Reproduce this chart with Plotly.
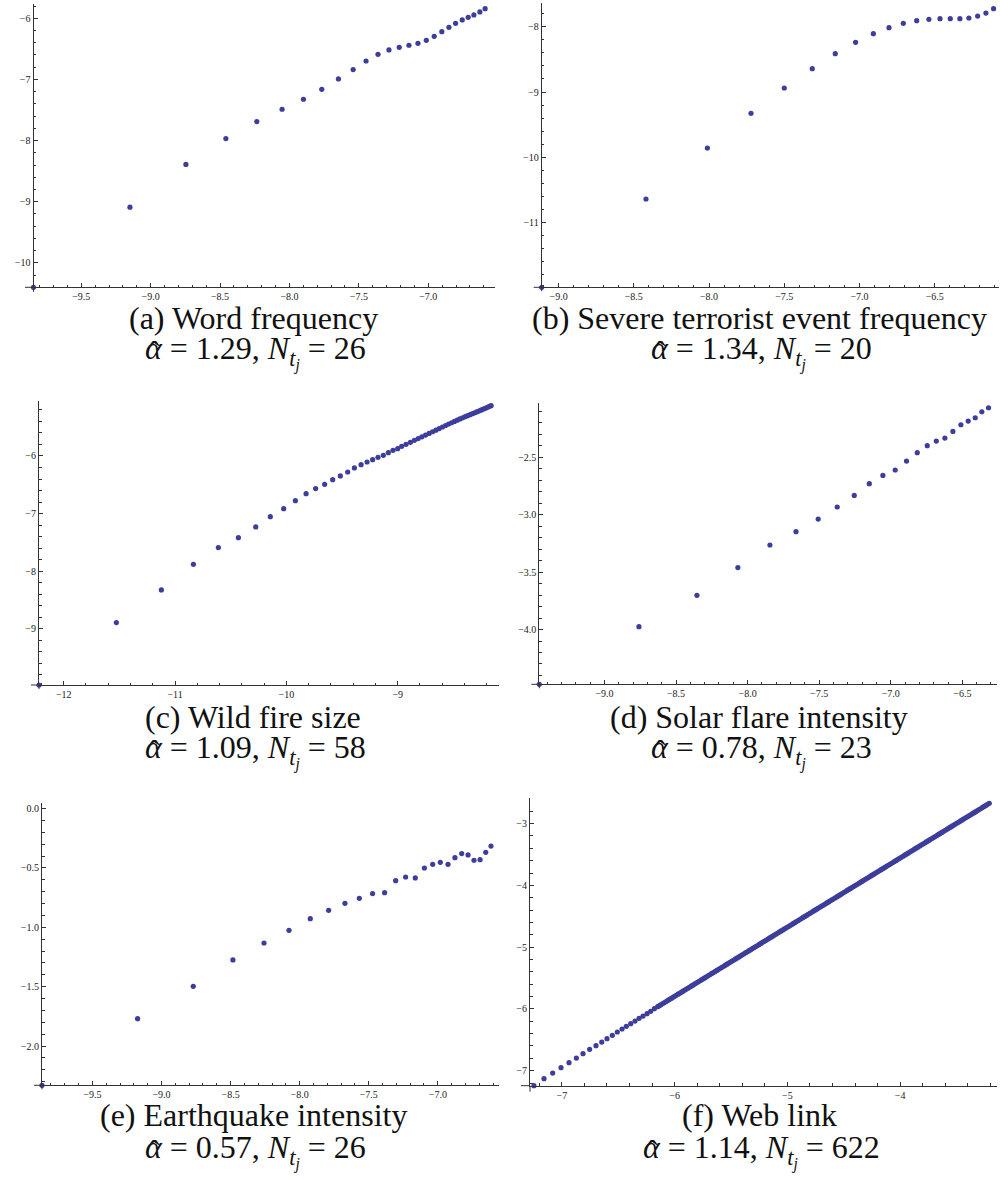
import plotly.graph_objects as go

# ---------------------------------------------------------------- data
# (a) Word frequency
word_x = [-9.844, -9.149, -8.746, -8.458, -8.235, -8.053, -7.899, -7.767, -7.647, -7.541,
          -7.448, -7.362, -7.283, -7.209, -7.139, -7.074, -7.014, -6.957, -6.902, -6.851,
          -6.803, -6.755, -6.712, -6.671, -6.628, -6.590]
word_y = [-10.40, -9.09, -8.39, -7.967, -7.689, -7.488, -7.324, -7.161, -6.992, -6.839,
          -6.698, -6.589, -6.518, -6.474, -6.441, -6.409, -6.360, -6.294, -6.218, -6.147,
          -6.082, -6.027, -5.984, -5.945, -5.896, -5.842]

# (b) Severe terrorist event frequency
terror_x = [-9.112, -8.419, -8.011, -7.721, -7.500, -7.314, -7.161, -7.026, -6.908, -6.804,
            -6.709, -6.620, -6.539, -6.465, -6.397, -6.333, -6.273, -6.215, -6.160, -6.109]
terror_y = [-11.99, -10.638, -9.857, -9.327, -8.939, -8.643, -8.413, -8.240, -8.107, -8.015,
            -7.949, -7.908, -7.888, -7.878, -7.878, -7.878, -7.867, -7.837, -7.791, -7.724]

# (c) Wild fire size
fire_x = [-12.222, -11.527, -11.123, -10.835, -10.611, -10.431, -10.275, -10.144, -10.024, -9.919,
          -9.823, -9.737, -9.656, -9.584, -9.515, -9.449, -9.389, -9.329, -9.275, -9.225,
          -9.177, -9.129, -9.084, -9.042, -9.000, -8.964, -8.925, -8.886, -8.850, -8.816,
          -8.783, -8.750, -8.718, -8.687, -8.657, -8.627, -8.598, -8.570, -8.543, -8.516,
          -8.490, -8.465, -8.441, -8.417, -8.394, -8.372, -8.350, -8.329, -8.309, -8.290,
          -8.271, -8.253, -8.236, -8.220, -8.204, -8.189, -8.175, -8.161]
fire_y = [-9.980, -8.895, -8.328, -7.882, -7.592, -7.419, -7.233, -7.054, -6.915, -6.776,
          -6.654, -6.567, -6.492, -6.411, -6.347, -6.278, -6.208, -6.151, -6.104, -6.064,
          -6.023, -5.988, -5.942, -5.902, -5.873, -5.832, -5.797, -5.763, -5.728, -5.697,
          -5.667, -5.637, -5.608, -5.579, -5.551, -5.523, -5.496, -5.470, -5.445, -5.422,
          -5.399, -5.377, -5.356, -5.336, -5.317, -5.300, -5.282, -5.265, -5.249, -5.234,
          -5.219, -5.204, -5.189, -5.176, -5.162, -5.149, -5.137, -5.125]

# (d) Solar flare intensity
solar_x = [-9.455, -8.759, -8.354, -8.068, -7.844, -7.662, -7.507, -7.374, -7.255, -7.150,
           -7.055, -6.969, -6.890, -6.815, -6.745, -6.682, -6.622, -6.566, -6.510, -6.459,
           -6.410, -6.364, -6.317]
solar_y = [-4.477, -3.975, -3.702, -3.461, -3.264, -3.148, -3.038, -2.933, -2.832, -2.730,
           -2.658, -2.611, -2.533, -2.460, -2.399, -2.359, -2.333, -2.275, -2.217, -2.185,
           -2.156, -2.104, -2.069]

# (e) Earthquake intensity
quake_x = [-9.865, -9.173, -8.770, -8.483, -8.258, -8.077, -7.923, -7.790, -7.672, -7.568,
           -7.472, -7.385, -7.305, -7.233, -7.163, -7.097, -7.037, -6.982, -6.926, -6.876,
           -6.827, -6.781, -6.738, -6.694, -6.653, -6.615]
quake_y = [-2.331, -1.770, -1.497, -1.275, -1.132, -1.025, -0.927, -0.857, -0.798, -0.756,
           -0.716, -0.708, -0.607, -0.576, -0.584, -0.500, -0.469, -0.452, -0.469, -0.413,
           -0.379, -0.390, -0.435, -0.430, -0.368, -0.315]

# (f) Web link: sparse lower tail ...
web_tail_x = [-7.347, -7.247, -7.158, -7.081, -7.007, -6.936, -6.871, -6.812, -6.753, -6.697,
              -6.646, -6.599, -6.552, -6.508, -6.466, -6.428, -6.389, -6.351, -6.315, -6.280,
              -6.244, -6.212, -6.179]
web_tail_y = [-7.351, -7.243, -7.130, -7.038, -6.951, -6.870, -6.795, -6.725, -6.654, -6.595,
              -6.536, -6.482, -6.428, -6.374, -6.325, -6.282, -6.239, -6.196, -6.153, -6.115,
              -6.077, -6.039, -5.996]
# ... and the dense upper run
web_run_x = [
    -6.150, -6.135, -6.120, -6.105, -6.090, -6.075, -6.060, -6.045, -6.030, -6.015,
    -6.000, -5.985, -5.970, -5.955, -5.940, -5.925, -5.910, -5.895, -5.880, -5.865,
    -5.850, -5.835, -5.820, -5.805, -5.790, -5.775, -5.760, -5.745, -5.730, -5.715,
    -5.700, -5.685, -5.670, -5.655, -5.640, -5.625, -5.610, -5.595, -5.580, -5.565,
    -5.550, -5.535, -5.520, -5.505, -5.490, -5.475, -5.460, -5.445, -5.430, -5.415,
    -5.400, -5.385, -5.370, -5.355, -5.340, -5.325, -5.310, -5.295, -5.280, -5.265,
    -5.250, -5.235, -5.220, -5.205, -5.190, -5.175, -5.160, -5.145, -5.130, -5.115,
    -5.100, -5.085, -5.070, -5.055, -5.040, -5.025, -5.010, -4.995, -4.980, -4.965,
    -4.950, -4.935, -4.920, -4.905, -4.890, -4.875, -4.860, -4.845, -4.830, -4.815,
    -4.800, -4.785, -4.770, -4.755, -4.740, -4.725, -4.710, -4.695, -4.680, -4.665,
    -4.650, -4.635, -4.620, -4.605, -4.590, -4.575, -4.560, -4.545, -4.530, -4.515,
    -4.500, -4.485, -4.470, -4.455, -4.440, -4.425, -4.410, -4.395, -4.380, -4.365,
    -4.350, -4.335, -4.320, -4.305, -4.290, -4.275, -4.260, -4.245, -4.230, -4.215,
    -4.200, -4.185, -4.170, -4.155, -4.140, -4.125, -4.110, -4.095, -4.080, -4.065,
    -4.050, -4.035, -4.020, -4.005, -3.990, -3.975, -3.960, -3.945, -3.930, -3.915,
    -3.900, -3.885, -3.870, -3.855, -3.840, -3.825, -3.810, -3.795, -3.780, -3.765,
    -3.750, -3.735, -3.720, -3.705, -3.690, -3.675, -3.660, -3.645, -3.630, -3.615,
    -3.600, -3.585, -3.570, -3.555, -3.540, -3.525, -3.510, -3.495, -3.480, -3.465,
    -3.450, -3.435, -3.420, -3.405, -3.390, -3.375, -3.360, -3.345, -3.330, -3.315,
    -3.300, -3.285, -3.270, -3.255, -3.240, -3.225, -3.210]
web_run_y = [
    -5.964, -5.947, -5.930, -5.914, -5.897, -5.880, -5.863, -5.846, -5.830, -5.813,
    -5.796, -5.779, -5.762, -5.746, -5.729, -5.712, -5.695, -5.678, -5.662, -5.645,
    -5.628, -5.611, -5.594, -5.578, -5.561, -5.544, -5.527, -5.510, -5.494, -5.477,
    -5.460, -5.443, -5.426, -5.410, -5.393, -5.376, -5.359, -5.342, -5.326, -5.309,
    -5.292, -5.275, -5.258, -5.242, -5.225, -5.208, -5.191, -5.174, -5.158, -5.141,
    -5.124, -5.107, -5.090, -5.074, -5.057, -5.040, -5.023, -5.006, -4.990, -4.973,
    -4.956, -4.939, -4.922, -4.906, -4.889, -4.872, -4.855, -4.838, -4.822, -4.805,
    -4.788, -4.771, -4.754, -4.738, -4.721, -4.704, -4.687, -4.670, -4.654, -4.637,
    -4.620, -4.603, -4.586, -4.570, -4.553, -4.536, -4.519, -4.502, -4.486, -4.469,
    -4.452, -4.435, -4.418, -4.402, -4.385, -4.368, -4.351, -4.334, -4.318, -4.301,
    -4.284, -4.267, -4.250, -4.234, -4.217, -4.200, -4.183, -4.166, -4.150, -4.133,
    -4.116, -4.099, -4.082, -4.066, -4.049, -4.032, -4.015, -3.998, -3.982, -3.965,
    -3.948, -3.931, -3.914, -3.898, -3.881, -3.864, -3.847, -3.830, -3.814, -3.797,
    -3.780, -3.763, -3.746, -3.730, -3.713, -3.696, -3.679, -3.662, -3.646, -3.629,
    -3.612, -3.595, -3.578, -3.562, -3.545, -3.528, -3.511, -3.494, -3.478, -3.461,
    -3.444, -3.427, -3.410, -3.394, -3.377, -3.360, -3.343, -3.326, -3.310, -3.293,
    -3.276, -3.259, -3.242, -3.226, -3.209, -3.192, -3.175, -3.158, -3.142, -3.125,
    -3.108, -3.091, -3.074, -3.058, -3.041, -3.024, -3.007, -2.990, -2.974, -2.957,
    -2.940, -2.923, -2.906, -2.890, -2.873, -2.856, -2.839, -2.822, -2.806, -2.789,
    -2.772, -2.755, -2.738, -2.722, -2.705, -2.688, -2.671]
web_x = web_tail_x + web_run_x
web_y = web_tail_y + web_run_y

captions = ["(a) Word frequency", "(b) Severe terrorist event frequency",
            "(c) Wild fire size", "(d) Solar flare intensity",
            "(e) Earthquake intensity", "(f) Web link"]
alpha_hat = ["1.29", "1.34", "1.09", "0.78", "0.57", "1.14"]
n_tail = ["26", "20", "58", "23", "26", "622"]

series = [(word_x, word_y), (terror_x, terror_y), (fire_x, fire_y),
          (solar_x, solar_y), (quake_x, quake_y), (web_x, web_y)]

# ---------------------------------------------------------------- layout
W, H = 1000, 1180
DOT = "#3d3d9c"
AXIS = "#333333"
SERIF = "Liberation Serif"
TICK_FONT = dict(family=SERIF, size=10, color="#222222")
CAP_SIZE = 32
CAP_FONT = dict(family=SERIF, size=CAP_SIZE, color="#111111")

# frame of each panel in pixels: left, right, top, bottom (axis lines)
frames = [(33.5, 495, 4, 287.3), (541.7, 999, 3.3, 287.3),
          (39, 499, 400.7, 685), (539.3, 996.7, 402.7, 684.3),
          (42, 499, 803.3, 1085.3), (530, 996.7, 798.3, 1085.7)]
x_ranges = [[-9.844, -6.519], [-9.112, -6.073], [-12.222, -8.09],
            [-9.455, -6.26], [-9.865, -6.557], [-7.282, -3.144]]
y_ranges = [[-10.40, -5.766], [-11.99, -7.642], [-9.98, -5.039],
            [-4.477, -2.025], [-2.331, 0.045], [-7.243, -2.59]]
# major / minor tick steps and label formats
x_ticks = [(0.5, 0.1, ".1f"), (0.5, 0.1, ".1f"), (1, 0.2, "d"),
           (0.5, 0.1, ".1f"), (0.5, 0.1, ".1f"), (1, 0.2, "d")]
y_ticks = [(1, 0.2, "d"), (1, 0.2, "d"), (1, 0.2, "d"),
           (0.5, 0.1, ".1f"), (0.5, 0.1, ".1f"), (1, 0.2, "d")]
cap_x = [253, 759, 253, 759, 253, 759]
cap_y = [(318, 352), (318, 352), (717, 751), (717, 751), (1115, 1151), (1115, 1151)]
stub = [(8.5, 4.5), (8, 4), (8, 4), (8, 4), (8, 4), (9, 6)]

EQ = "\u00a0=\u00a0"


def fx(px):
    return px / W


def fy(py):
    return 1 - py / H


fig = go.Figure()
shapes = []
annotations = []

for i, ((xs, ys), (L, R, T, B)) in enumerate(zip(series, frames)):
    n = i + 1
    xa = "x" if n == 1 else f"x{n}"
    ya = "y" if n == 1 else f"y{n}"
    fig.add_trace(go.Scatter(
        x=xs, y=ys, mode="markers", xaxis=xa, yaxis=ya,
        marker=dict(size=5.2, color=DOT, line=dict(width=0)),
        cliponaxis=False, hoverinfo="skip"))

    xd, xm, xf = x_ticks[i]
    yd, ym, yf = y_ticks[i]
    common = dict(showgrid=False, zeroline=False, showline=True, linecolor=AXIS,
                  linewidth=1, ticks="inside", ticklen=4, tickwidth=1, tickcolor=AXIS,
                  tickfont=TICK_FONT, tickmode="linear", tick0=0, fixedrange=True)
    fig.update_layout({
        ("xaxis" if n == 1 else f"xaxis{n}"): dict(
            common, domain=[fx(L), fx(R)], range=x_ranges[i], anchor=ya,
            dtick=xd, tickformat=xf,
            minor=dict(dtick=xm, ticks="inside", ticklen=2.5, tickwidth=1, tickcolor=AXIS)),
        ("yaxis" if n == 1 else f"yaxis{n}"): dict(
            common, domain=[fy(B), fy(T)], range=y_ranges[i], anchor=xa,
            dtick=yd, tickformat=yf,
            minor=dict(dtick=ym, ticks="inside", ticklen=2.5, tickwidth=1, tickcolor=AXIS)),
    })

    # short overhangs where the two axes cross
    sx, sy = stub[i]
    shapes.append(dict(type="line", xref="paper", yref="paper",
                       x0=fx(L - sx), x1=fx(L), y0=fy(B), y1=fy(B),
                       line=dict(color=AXIS, width=1)))
    shapes.append(dict(type="line", xref="paper", yref="paper",
                       x0=fx(L), x1=fx(L), y0=fy(B), y1=fy(B + sy),
                       line=dict(color=AXIS, width=1)))

    # caption, first line
    annotations.append(dict(text=captions[i], xref="paper", yref="paper",
                            x=fx(cap_x[i]), y=fy(cap_y[i][0]), xanchor="center",
                            yanchor="middle", showarrow=False, font=CAP_FONT))
    # caption, second line: left-anchored so the hat can sit on the alpha
    est_w = (206 + 15 * (len(n_tail[i]) - 2)) * CAP_SIZE / 30
    x0 = cap_x[i] - est_w / 2
    stat = (f"<i>\u03b1</i>{EQ}{alpha_hat[i]}, "
            f"<i>N</i><sub><i>t</i><sub><i>j</i></sub></sub>{EQ}{n_tail[i]}")
    annotations.append(dict(text=stat, xref="paper", yref="paper",
                            x=fx(x0), y=fy(cap_y[i][1]), xanchor="left",
                            yanchor="middle", showarrow=False, font=CAP_FONT))
    annotations.append(dict(text="\u02c6", xref="paper", yref="paper",
                            x=fx(x0 + 11), y=fy(cap_y[i][1]), xanchor="center",
                            yanchor="middle", showarrow=False, font=CAP_FONT))

fig.update_layout(width=W, height=H, margin=dict(l=0, r=0, t=0, b=0),
                  paper_bgcolor="white", plot_bgcolor="white", showlegend=False,
                  shapes=shapes, annotations=annotations)

fig.write_html("out.html")
